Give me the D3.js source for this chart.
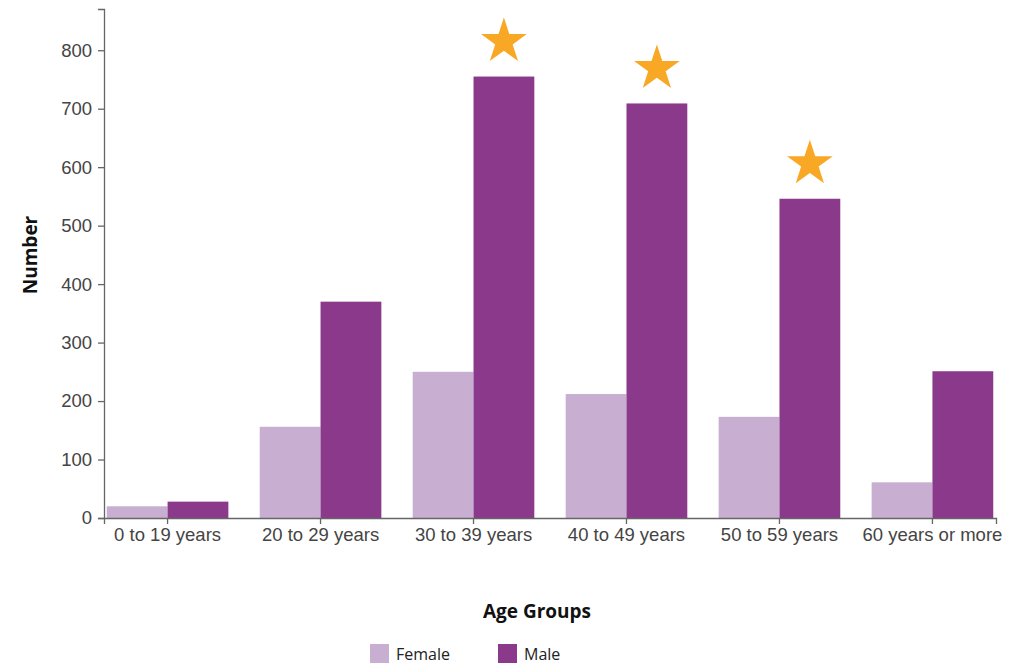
<!DOCTYPE html>
<html>
<head>
<meta charset="utf-8">
<script src="https://cdn.jsdelivr.net/npm/d3@7"></script>
<style>
  html, body { margin: 0; padding: 0; background: #fff; }
  svg { display: block; }
  .tick text { font-family: "Liberation Sans", Arial, sans-serif; font-size: 18.5px; fill: #444; }
  .domain, .tick line { stroke: #666; stroke-width: 1.3px; }
</style>
</head>
<body>
<svg id="chart" width="1022" height="666"></svg>
<script>
// Age groups and counts by sex
const ageGroups = ["0 to 19 years", "20 to 29 years", "30 to 39 years", "40 to 49 years", "50 to 59 years", "60 years or more"];
const female = [20, 156, 250, 212, 173, 61];
const male = [28, 370, 755, 709, 546, 251];
const highlighted = [false, false, true, true, true, false]; // male bars marked with a star
const seriesNames = ["Female", "Male"];
const seriesColors = ["#c8aed1", "#8b3a8b"];
const yTicks = [0, 100, 200, 300, 400, 500, 600, 700, 800];

const svg = d3.select("#chart");
const margin = { left: 104, right: 26, top: 9, bottom: 148 };
const width = 1022 - margin.left - margin.right;
const height = 666 - margin.top - margin.bottom;

const g = svg.append("g").attr("transform", `translate(${margin.left},${margin.top})`);

const x0 = d3.scaleBand().domain(ageGroups).range([0, width]).paddingInner(0.205).paddingOuter(0.018);
const x1 = d3.scaleBand().domain(seriesNames).range([0, x0.bandwidth()]);
const y = d3.scaleLinear().domain([0, d3.max(male) * 1.153]).range([height, 0]);
const color = d3.scaleOrdinal().domain(seriesNames).range(seriesColors);

const rows = ageGroups.map((a, i) => ({ group: a, values: [
  { key: "Female", value: female[i] },
  { key: "Male", value: male[i] }
], star: highlighted[i] }));

// grouped bars
const groups = g.selectAll(".group").data(rows).join("g")
  .attr("class", "group")
  .attr("transform", d => `translate(${x0(d.group)},0)`);

groups.selectAll("rect").data(d => d.values).join("rect")
  .attr("x", d => x1(d.key))
  .attr("y", d => y(d.value))
  .attr("width", x1.bandwidth())
  .attr("height", d => height - y(d.value))
  .attr("fill", d => color(d.key));

// stars above highlighted male bars
const star = d3.symbol().type(d3.symbolStar).size(650);
groups.filter(d => d.star).append("path")
  .attr("d", star)
  .attr("fill", "#f9a825")
  .attr("transform", d => `translate(${x1("Male") + x1.bandwidth() / 2},${y(d.values[1].value) - 35})`);

// axes
g.append("g")
  .attr("transform", `translate(0,${height})`)
  .call(d3.axisBottom(x0).tickSize(6).tickPadding(4));

g.append("g")
  .call(d3.axisLeft(y).tickValues(yTicks).tickSize(6).tickPadding(6));

// axis titles
svg.append("text")
  .attr("transform", `translate(37,255) rotate(-90)`)
  .attr("text-anchor", "middle")
  .style("font-family", "'Open Sans', sans-serif")
  .style("font-weight", "bold")
  .style("font-size", "19px")
  .style("fill", "#111")
  .text("Number");

svg.append("text")
  .attr("x", 537)
  .attr("y", 618)
  .attr("text-anchor", "middle")
  .style("font-family", "'Open Sans', sans-serif")
  .style("font-weight", "bold")
  .style("font-size", "19px")
  .style("fill", "#111")
  .text("Age Groups");

// legend
const legendX = [370, 498];
const legend = svg.selectAll(".legend").data(seriesNames).join("g")
  .attr("class", "legend")
  .attr("transform", (d, i) => `translate(${legendX[i]},644)`);
legend.append("rect")
  .attr("width", 19).attr("height", 19)
  .attr("fill", d => color(d));
legend.append("text")
  .attr("x", 26).attr("y", 16)
  .style("font-family", "'Open Sans', sans-serif")
  .style("font-size", "16px")
  .style("fill", "#222")
  .text(d => d);
</script>
</body>
</html>
